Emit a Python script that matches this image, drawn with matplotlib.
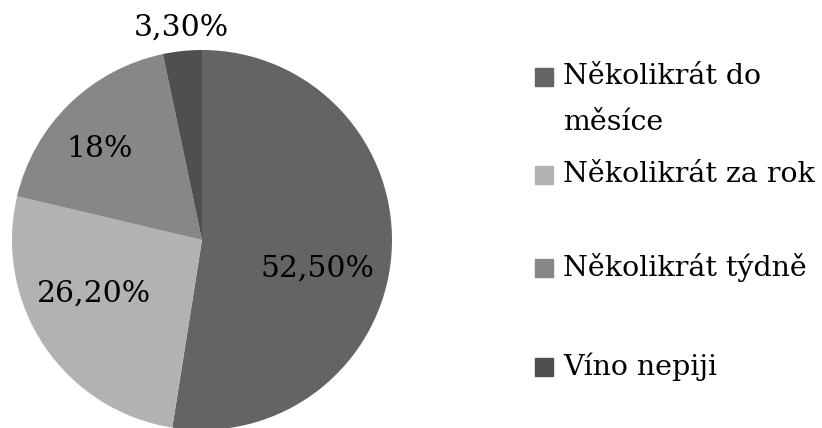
import matplotlib.pyplot as plt
from matplotlib.patches import Rectangle

# data
categories = ['Několikrát do\nměsíce', 'Několikrát za rok', 'Několikrát týdně', 'Víno nepiji']
values = [52.5, 26.2, 18.0, 3.3]
pct_labels = ['52,50%', '26,20%', '18%', '3,30%']
colors = ['#646464', '#b2b2b2', '#878787', '#4f4f4f']

plt.rcParams['font.family'] = ['DejaVu Serif']

fig = plt.figure(figsize=(8.22, 4.28), dpi=100)
ax = fig.add_axes([12 / 822, -2 / 428, 380 / 822, 380 / 428])

wedges, _ = ax.pie(values, colors=colors, startangle=90, counterclock=False,
                   radius=1, wedgeprops=dict(linewidth=0))
ax.set_xlim(-1, 1)
ax.set_ylim(-1, 1)
ax.set_aspect('equal')

# label positions (relative to pie radius)
label_pos = [(0.61, -0.15), (-0.57, -0.28), (-0.54, 0.48), (-0.11, 1.12)]
for (x, y), txt in zip(label_pos, pct_labels):
    ax.text(x, y, txt, ha='center', va='center', fontsize=21.5, color='black', clip_on=False)

# legend drawn by hand
legend_y = [77, 175, 268, 367]
for y, lab, c in zip(legend_y, categories, colors):
    fy = 1 - y / 428
    fig.patches.append(Rectangle((535 / 822, fy - 9 / 428), 18 / 822, 18 / 428,
                                 transform=fig.transFigure, color=c))
    lines = lab.split('\n')
    for i, line in enumerate(lines):
        fig.text(563 / 822, 1 - (y + i * 45) / 428, line, ha='left', va='center',
                 fontsize=20.5, color='black')

plt.savefig('out.png', dpi=100)
